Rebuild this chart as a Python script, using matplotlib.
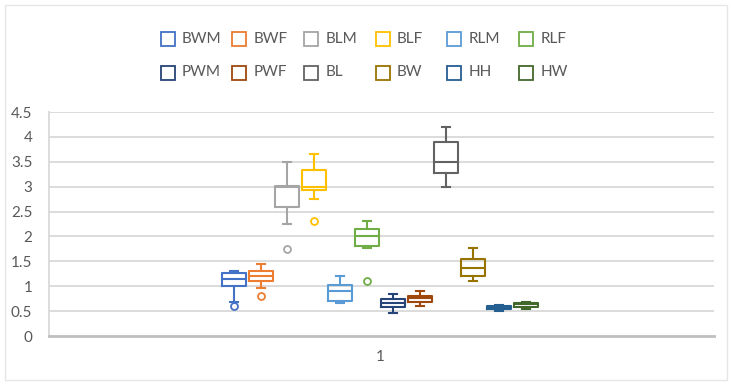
import matplotlib
matplotlib.use("Agg")
import matplotlib.pyplot as plt
from matplotlib.patches import Rectangle
from matplotlib.lines import Line2D

plt.rcParams['font.family'] = ['Lato', 'DejaVu Sans']

series = ['BWM', 'BWF', 'BLM', 'BLF', 'RLM', 'RLF',
          'PWM', 'PWF', 'BL', 'BW', 'HH', 'HW']
colors = ['#4472C4', '#ED7D31', '#A5A5A5', '#FFC000', '#5B9BD5', '#70AD47',
          '#264478', '#9E480E', '#636363', '#997300', '#255E91', '#43682B']
whislo = [0.69, 0.96, 2.25, 2.75, 0.66, 1.76, 0.46, 0.61, 3.00, 1.10, 0.51, 0.55]
q1     = [1.00, 1.10, 2.60, 2.93, 0.70, 1.80, 0.58, 0.69, 3.28, 1.21, 0.55, 0.59]
med    = [1.15, 1.21, 3.00, 3.00, 0.91, 2.00, 0.67, 0.76, 3.50, 1.36, 0.58, 0.64]
q3     = [1.26, 1.31, 3.01, 3.33, 1.03, 2.15, 0.75, 0.81, 3.90, 1.55, 0.61, 0.67]
whishi = [1.30, 1.45, 3.50, 3.65, 1.21, 2.31, 0.85, 0.91, 4.20, 1.76, 0.63, 0.69]
fliers = [[0.61], [0.81], [1.75], [2.31], [], [1.10], [], [], [], [], [], []]
category = ['1']
yticks = [0, 0.5, 1, 1.5, 2, 2.5, 3, 3.5, 4, 4.5]

W, H = 732, 386
fig = plt.figure(figsize=(W / 100, H / 100), dpi=100)
fig.patch.set_facecolor('white')
fig.add_artist(Rectangle((5 / W, 1 - 380 / H), 722 / W, 375 / H, transform=fig.transFigure,
                         fill=False, edgecolor='#E6E6E6', linewidth=1))

ax_l, ax_r, ax_t, ax_b = 49, 714, 112, 336
ax = fig.add_axes([ax_l / W, 1 - ax_b / H, (ax_r - ax_l) / W, (ax_b - ax_t) / H])

n = len(series)
step = 26.5 / (ax_r - ax_l)
center = (380 - ax_l) / (ax_r - ax_l)
positions = [center + (i - (n - 1) / 2) * step for i in range(n)]
bw = 24 / (ax_r - ax_l)

for i in range(n):
    st = dict(whislo=whislo[i], q1=q1[i], med=med[i], q3=q3[i], whishi=whishi[i],
              fliers=fliers[i], label=series[i])
    c = colors[i]
    ax.bxp([st], positions=[positions[i]], widths=bw, showfliers=True,
           manage_ticks=False,
           boxprops=dict(color=c, linewidth=1.5),
           medianprops=dict(color=c, linewidth=1.5),
           whiskerprops=dict(color=c, linewidth=1.5),
           capprops=dict(color=c, linewidth=1.5),
           capwidths=bw * 0.35,
           flierprops=dict(marker='o', markersize=5, markerfacecolor='none',
                           markeredgecolor=c, markeredgewidth=1.3))

ax.set_xlim(0, 1)
ax.set_ylim(0, 4.5)
ax.set_yticks(yticks)
ax.set_yticklabels([f'{t:g}' for t in yticks])
ax.set_xticks([center])
ax.set_xticklabels(category)
ax.tick_params(axis='both', length=0, labelsize=11, colors='#595959')
ax.tick_params(axis='y', pad=12)
ax.tick_params(axis='x', pad=10)
for yv in yticks[1:]:
    ax.axhline(yv, color='#D9D9D9', linewidth=1.3, zorder=0)
for s in ['top', 'right']:
    ax.spines[s].set_visible(False)
ax.spines['left'].set_color('#D9D9D9')
ax.spines['left'].set_linewidth(1.3)
ax.spines['bottom'].set_color('#BFBFBF')
ax.spines['bottom'].set_linewidth(2)

# Legend: 2 rows x 6 equally spaced columns (Excel style)
for i, name in enumerate(series):
    col, row = i % 6, i // 6
    xc = 167.5 + col * 71.7
    yc = 39 + row * 33.5
    fig.add_artist(Line2D([xc / W], [1 - yc / H], transform=fig.transFigure,
                          marker='s', linestyle='none', markersize=10.5,
                          markerfacecolor='none', markeredgecolor=colors[i],
                          markeredgewidth=1.3))
    fig.text((xc + 14.5) / W, 1 - yc / H, name, fontsize=11, color='#595959',
             ha='left', va='center')

fig.savefig('out.png', dpi=100, facecolor='white')
